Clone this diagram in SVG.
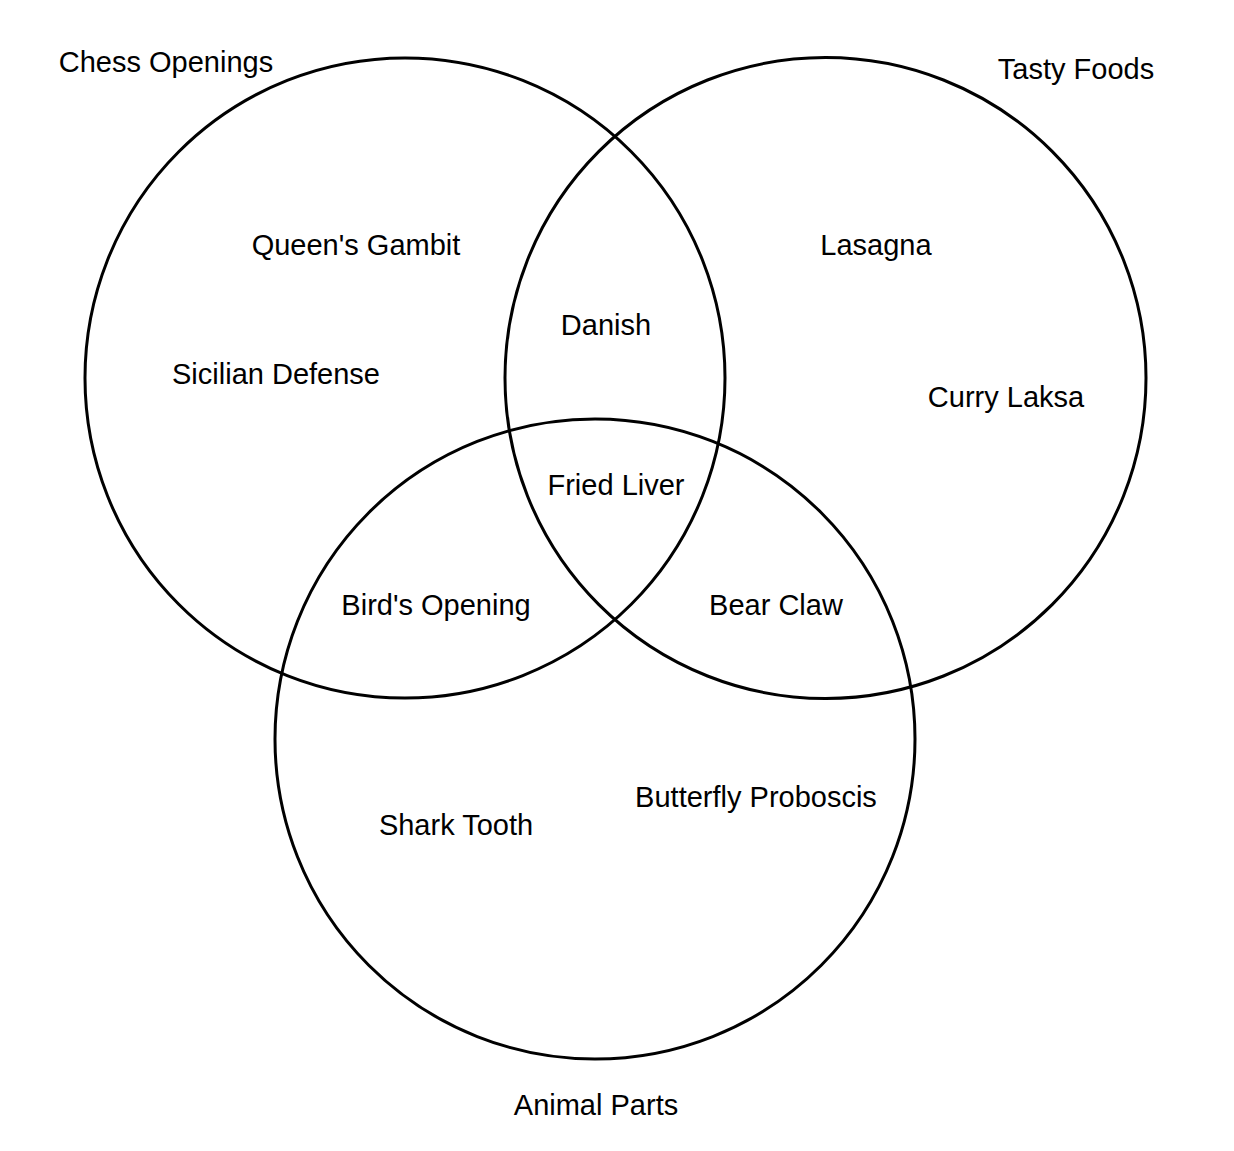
<svg xmlns="http://www.w3.org/2000/svg" width="1234" height="1151" viewBox="0 0 1234 1151">
<style>
.c{fill:none;stroke:#000;stroke-width:3}
text{font-family:"Liberation Sans",Arial,sans-serif;font-size:29px;fill:#000;text-anchor:middle}
</style>
<rect width="1234" height="1151" fill="#fff"/>
<g id="chess"><circle class="c" cx="405" cy="378" r="320"/><text x="166" y="72">Chess Openings</text></g>
<g id="foods"><circle class="c" cx="825.5" cy="378" r="320.5"/><text x="1076" y="79">Tasty Foods</text></g>
<g id="animal"><circle class="c" cx="595" cy="739" r="320"/><text x="596" y="1115">Animal Parts</text></g>
<g id="labels">
<text x="356" y="255">Queen's Gambit</text>
<text x="276" y="384">Sicilian Defense</text>
<text x="606" y="335">Danish</text>
<text x="876" y="255">Lasagna</text>
<text x="1006" y="407">Curry Laksa</text>
<text x="616" y="495">Fried Liver</text>
<text x="436" y="615">Bird's Opening</text>
<text x="776" y="615">Bear Claw</text>
<text x="756" y="807">Butterfly Proboscis</text>
<text x="456" y="835">Shark Tooth</text>
</g>
<g id="connectors"/>
</svg>
